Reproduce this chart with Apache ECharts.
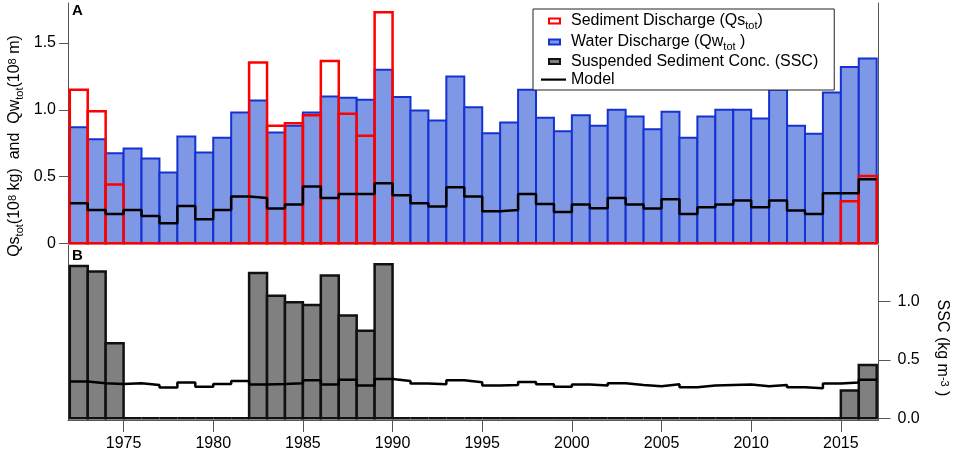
<!DOCTYPE html>
<html><head><meta charset="utf-8">
<script src="https://cdn.jsdelivr.net/npm/echarts@6/dist/echarts.min.js"></script>
<style>html,body{margin:0;padding:0;background:#fff}#c{width:957px;height:454px}</style>
</head><body><div id="c"></div>
<script>
// ---- data ----
const years = [1972,1973,1974,1975,1976,1977,1978,1979,1980,1981,
               1982,1983,1984,1985,1986,1987,1988,1989,1990,1991,
               1992,1993,1994,1995,1996,1997,1998,1999,2000,2001,
               2002,2003,2004,2005,2006,2007,2008,2009,2010,2011,
               2012,2013,2014,2015,2016];
// Water discharge Qw_tot (10^8 m)
const qw = [0.87,0.78,0.675,0.71,0.635,0.53,0.80,0.68,0.79,0.98,
            1.07,0.83,0.88,0.98,1.10,1.09,1.075,1.30,1.095,0.995,
            0.92,1.25,1.02,0.825,0.905,1.15,0.94,0.84,0.96,0.88,
            1.0,0.95,0.855,0.985,0.79,0.95,1.0,1.0,0.935,1.15,
            0.88,0.82,1.13,1.32,1.385];
// Sediment discharge Qs_tot (10^8 kg)
const qs = [1.15,0.99,0.44,0,0,0,0,0,0,0,
            1.355,0.88,0.90,0.96,1.365,0.97,0.805,1.73,0,0,
            0,0,0,0,0,0,0,0,0,0,
            0,0,0,0,0,0,0,0,0,0,
            0,0,0,0.315,0.505];
// Model (top panel)
const modelQ = [0.30,0.25,0.22,0.25,0.205,0.15,0.28,0.18,0.25,0.35,
                0.34,0.26,0.29,0.425,0.34,0.37,0.37,0.45,0.36,0.30,
                0.275,0.42,0.35,0.24,0.25,0.37,0.295,0.235,0.29,0.2625,
                0.34,0.29,0.26,0.33,0.22,0.27,0.29,0.32,0.27,0.32,
                0.245,0.22,0.375,0.375,0.48];
// Suspended sediment concentration SSC (kg m^-3)
const ssc = [1.306,1.257,0.643,0,0,0,0,0,0,0,
             1.246,1.049,0.994,0.971,1.223,0.88,0.749,1.32,0,0,
             0,0,0,0,0,0,0,0,0,0,
             0,0,0,0,0,0,0,0,0,0,
             0,0,0,0.237,0.457];
// Model (bottom panel)
const modelS = [0.314,0.30,0.294,0.30,0.286,0.263,0.306,0.269,0.294,0.32,
                0.289,0.294,0.30,0.326,0.289,0.329,0.28,0.337,0.32,0.297,
                0.291,0.326,0.309,0.28,0.286,0.311,0.291,0.271,0.289,0.28,
                0.30,0.286,0.274,0.291,0.266,0.28,0.286,0.289,0.274,0.286,
                0.266,0.257,0.297,0.306,0.329];
const xTicks = [1975,1980,1985,1990,1995,2000,2005,2010,2015];
const topTicks = [0,0.5,1.0,1.5];
const topTickLabels = ['0','0.5','1.0','1.5'];
const sscTicks = [0,0.5,1.0];
const sscTickLabels = ['0.0','0.5','1.0'];
const legendNames = ['Sediment Discharge','Water Discharge','Suspended Sediment Conc. (SSC)','Model'];
const legendLabels = {
  'Sediment Discharge':'Sediment Discharge (Qs{sub|tot})',
  'Water Discharge':'Water Discharge (Qw{sub|tot} )',
  'Suspended Sediment Conc. (SSC)':'Suspended Sediment Conc. (SSC)',
  'Model':'Model'
};
const leftTitle = 'Qs{sub|tot}({sp|}10{sup|8} kg)  and  Qw{sub|tot}(10{sup|8} m)';
const rightTitle = 'SSC (kg m{sup|-3} )';

// ---- chart ----
const FONT = 'Liberation Sans, Arial, Helvetica, sans-serif';
const AX = '#555';
const pairs = arr => years.map((y,i)=>[y, arr[i]]);
const stepPairs = arr => pairs(arr).concat([[years[years.length-1]+1, arr[arr.length-1]]]);
function barRender(fill, stroke, lw){
  return function(params, api){
    const yr = api.value(0), v = api.value(1);
    const p0 = api.coord([yr, v]);
    const p1 = api.coord([yr+1, 0]);
    return {type:'rect', shape:{x:p0[0], y:p0[1], width:p1[0]-p0[0], height:p1[1]-p0[1]},
            style:{fill:fill, stroke:stroke, lineWidth:lw}};
  };
}
const richSub = {
  sub:{fontSize:11, fontFamily:FONT, padding:[9,0,0,0], lineHeight:17},
  sup:{fontSize:11, fontFamily:FONT, padding:[0,0,5,0], lineHeight:17},
  sp:{fontSize:4}
};
const chart = echarts.init(document.getElementById('c'), null, {renderer:'canvas'});
chart.setOption({
  animation:false,
  backgroundColor:'#fff',
  textStyle:{fontFamily:FONT},
  grid:[
    {left:68, right:78.5, top:3, height:240.3},
    {left:68, right:78.5, top:245, height:175}
  ],
  xAxis:[
    {gridIndex:0, type:'value', min:1971.9, max:2017.1, show:false},
    {gridIndex:1, type:'value', min:1971.9, max:2017.1,
     axisLine:{show:true, onZero:false, lineStyle:{color:AX, width:1}},
     axisTick:{show:true, length:12, customValues:xTicks, lineStyle:{color:AX}},
     axisLabel:{customValues:xTicks, margin:16, fontSize:16, color:'#000', fontFamily:FONT,
                formatter:v=>String(v)},
     splitLine:{show:false}}
  ],
  yAxis:[
    {gridIndex:0, type:'value', min:0, max:1.8, position:'left',
     axisLine:{show:true, onZero:false, lineStyle:{color:AX}},
     axisTick:{show:true, length:9, customValues:topTicks, lineStyle:{color:AX}},
     axisLabel:{customValues:topTicks, margin:12, fontSize:16, color:'#000', fontFamily:FONT,
                formatter:v=>topTickLabels[topTicks.indexOf(v)]},
     splitLine:{show:false}},
    {gridIndex:0, type:'value', min:0, max:1.8, position:'right',
     axisLine:{show:true, onZero:false, lineStyle:{color:AX}},
     axisTick:{show:false}, axisLabel:{show:false}, splitLine:{show:false}},
    {gridIndex:1, type:'value', min:-0.015, max:1.485, position:'left',
     axisLine:{show:true, onZero:false, lineStyle:{color:AX}},
     axisTick:{show:false}, axisLabel:{show:false}, splitLine:{show:false}},
    {gridIndex:1, type:'value', min:-0.015, max:1.485, position:'right',
     axisLine:{show:true, onZero:false, lineStyle:{color:AX}},
     axisTick:{show:true, length:12, customValues:sscTicks, lineStyle:{color:AX}},
     axisLabel:{customValues:sscTicks, margin:19, fontSize:16, color:'#000', fontFamily:FONT,
                formatter:v=>sscTickLabels[sscTicks.indexOf(v)]},
     splitLine:{show:false}}
  ],
  legend:{
    orient:'vertical', left:533, top:9, itemWidth:25, itemHeight:8, itemGap:1,
    padding:[2,16,2,7], borderColor:'#222', borderWidth:1, backgroundColor:'#fff',
    selectedMode:false,
    textStyle:{fontSize:16, fontFamily:FONT, color:'#000', lineHeight:17, rich:richSub},
    formatter:n=>legendLabels[n],
    data:[
      {name:legendNames[0], icon:'path://M0,0M25,8M8,1.5h11v5h-11z', itemStyle:{color:'#fff', borderColor:'#ff0000', borderWidth:2}},
      {name:legendNames[1], icon:'path://M0,0M25,8M8,1.5h11v5h-11z', itemStyle:{color:'#7f98e6', borderColor:'#1432d2', borderWidth:2}},
      {name:legendNames[2], icon:'path://M0,0M25,8M8,1.5h11v5h-11z', itemStyle:{color:'#808080', borderColor:'#111', borderWidth:2}},
      {name:legendNames[3], icon:'path://M0,0M25,8M0,3h25v2.2h-25z', itemStyle:{color:'#000', borderWidth:0}}
    ]
  },
  graphic:[
    {type:'text', left:72, top:3, style:{text:'A', font:'bold 15px '+FONT, fill:'#000'}},
    {type:'text', left:72, top:248, style:{text:'B', font:'bold 15px '+FONT, fill:'#000'}},
    {type:'text', x:15, y:146, rotation:Math.PI/2,
     style:{text:leftTitle, fontSize:16, fontFamily:FONT, fill:'#000', align:'center', verticalAlign:'middle', rich:richSub}},
    {type:'text', x:942, y:348, rotation:-Math.PI/2,
     style:{text:rightTitle, fontSize:16, fontFamily:FONT, fill:'#000', align:'center', verticalAlign:'middle', rich:richSub}}
  ],
  series:[
    {name:legendNames[1], type:'custom', xAxisIndex:0, yAxisIndex:0, z:2,
     itemStyle:{color:'#7f98e6'}, encode:{x:0,y:1},
     renderItem:barRender('#7f98e6','#1432d2',2), data:pairs(qw)},
    {name:legendNames[0], type:'custom', xAxisIndex:0, yAxisIndex:0, z:3,
     itemStyle:{color:'#ff0000'}, encode:{x:0,y:1},
     renderItem:barRender('rgba(0,0,0,0)','#ff0000',2.5), data:pairs(qs)},
    {name:legendNames[3], type:'line', xAxisIndex:0, yAxisIndex:0, z:4, step:'end',
     symbol:'none', itemStyle:{color:'#000'}, lineStyle:{color:'#000', width:2.5},
     data:stepPairs(modelQ)},
    {name:legendNames[2], type:'custom', xAxisIndex:1, yAxisIndex:3, z:2,
     itemStyle:{color:'#808080'}, encode:{x:0,y:1},
     renderItem:barRender('#808080','#111',2.5), data:pairs(ssc)},
    {name:legendNames[3], type:'line', xAxisIndex:1, yAxisIndex:3, z:4, step:'end',
     symbol:'none', itemStyle:{color:'#000'}, lineStyle:{color:'#000', width:2.5},
     data:stepPairs(modelS)}
  ]
});
</script></body></html>
